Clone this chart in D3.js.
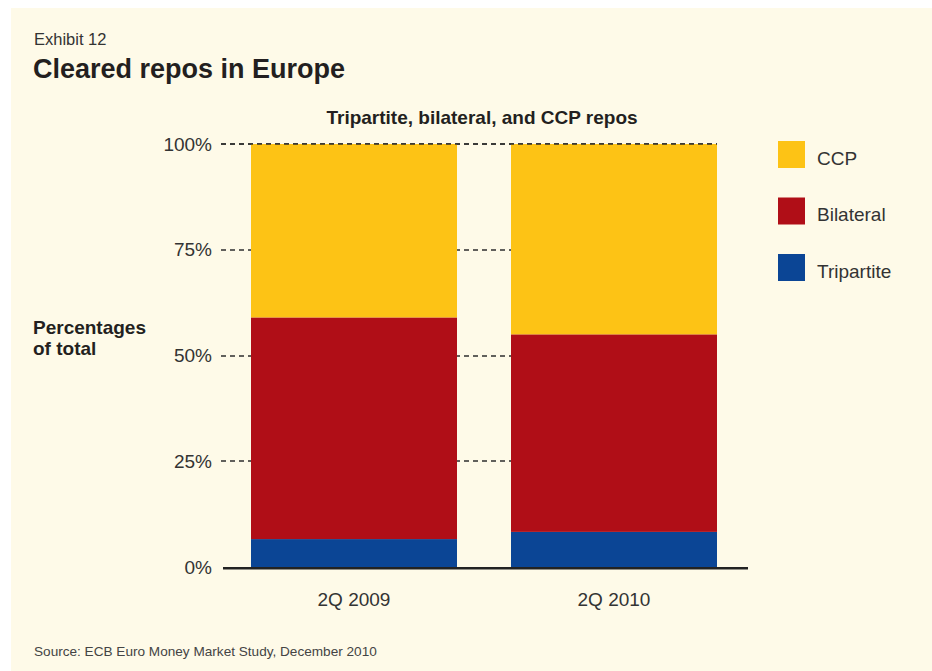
<!DOCTYPE html>
<html>
<head>
<meta charset="utf-8">
<script src="https://cdn.jsdelivr.net/npm/d3@7/dist/d3.min.js"></script>
<style>
  html, body { margin: 0; padding: 0; background: #ffffff; }
  svg { display: block; font-family: "Liberation Sans", Arial, Helvetica, sans-serif; }
</style>
</head>
<body>
<svg id="chart" width="932" height="671"></svg>
<script>
// Periods shown on the x axis
const categories = ["2Q 2009", "2Q 2010"];
// Share of total cleared repos, percent (stacked bottom to top)
const tripartite = [6.6, 8.3];
const bilateral = [52.4, 46.7];
const ccp = [41.0, 45.0];
const seriesNames = ["Tripartite", "Bilateral", "CCP"];
const seriesColors = ["#0b4595", "#b00e17", "#fdc315"];
const yTicks = [0, 25, 50, 75, 100];
const legendOrder = ["CCP", "Bilateral", "Tripartite"];

const rows = categories.map((c, i) => ({
  cat: c, Tripartite: tripartite[i], Bilateral: bilateral[i], CCP: ccp[i]
}));

const svg = d3.select("#chart");
const W = 932, H = 671;
const ink = "#231f20";
const soft = "#333333";

// Cream panel
svg.append("rect").attr("x", 11).attr("y", 8).attr("width", W - 11).attr("height", H - 8)
  .attr("fill", "#fefae8");

// Heading block
svg.append("text").attr("x", 34).attr("y", 44.5).attr("font-size", 16.5).attr("fill", soft)
  .text("Exhibit 12");
svg.append("text").attr("x", 33).attr("y", 78).attr("font-size", 27).attr("font-weight", "bold")
  .attr("fill", ink).text("Cleared repos in Europe");
svg.append("text").attr("x", 482).attr("y", 124).attr("font-size", 19).attr("font-weight", "bold")
  .attr("text-anchor", "middle").attr("fill", ink).text("Tripartite, bilateral, and CCP repos");

// Plot geometry
const yTop = 144, yBase = 567;
const xb = d3.scaleBand().domain(categories).range([251, 717]).paddingInner(54 / 260).paddingOuter(0);
const y = d3.scaleLinear().domain([0, 100]).range([yBase, yTop]);

const gridStyle = sel => sel.attr("stroke", "#2e2e2e").attr("stroke-width", 1.3)
  .attr("stroke-dasharray", "5,4");

// Dashed gridlines
const grid = svg.append("g");
yTicks.filter(t => t > 0).forEach(t => {
  const yy = Math.round(y(t));
  grid.append("line").attr("x1", 221).attr("x2", 717)
    .attr("y1", yy).attr("y2", yy).call(gridStyle);
});

// Tick labels
const yAxis = d3.axisLeft(y).tickValues(yTicks).tickSize(0).tickPadding(0)
  .tickFormat(d => d + "%");
const ya = svg.append("g").attr("transform", "translate(212,0)").call(yAxis);
ya.select(".domain").remove();
ya.selectAll("text").attr("font-size", 19).attr("fill", soft)
  .attr("font-family", "Liberation Sans, Arial, sans-serif");

// Stacked bars
const stack = d3.stack().keys(seriesNames)(rows);
const color = d3.scaleOrdinal().domain(seriesNames).range(seriesColors);
svg.append("g").selectAll("g").data(stack).join("g")
  .attr("fill", d => color(d.key))
  .selectAll("rect").data(d => d).join("rect")
  .attr("x", d => xb(d.data.cat))
  .attr("width", xb.bandwidth())
  .attr("y", d => y(d[1]))
  .attr("height", d => y(d[0]) - y(d[1]));

// 100% dashes drawn over the bar tops
svg.append("line").attr("x1", 221).attr("x2", 717).attr("y1", y(100)).attr("y2", y(100))
  .call(gridStyle);

// Baseline
svg.append("line").attr("x1", 223).attr("x2", 748).attr("y1", yBase + 1.2).attr("y2", yBase + 1.2)
  .attr("stroke", "#222").attr("stroke-width", 2.6);

// Category labels
const xAxis = d3.axisBottom(xb).tickSize(0).tickPadding(0);
const xa = svg.append("g").attr("transform", `translate(0,${yBase + 25})`).call(xAxis);
xa.select(".domain").remove();
xa.selectAll("text").attr("font-size", 19).attr("fill", soft)
  .attr("font-family", "Liberation Sans, Arial, sans-serif");

// Axis title
const at = svg.append("text").attr("x", 33).attr("y", 334).attr("font-size", 19)
  .attr("font-weight", "bold").attr("fill", ink);
at.append("tspan").attr("x", 33).attr("dy", 0).text("Percentages");
at.append("tspan").attr("x", 33).attr("dy", 20.5).text("of total");

// Legend
const lg = svg.append("g").selectAll("g").data(legendOrder).join("g")
  .attr("transform", (d, i) => `translate(778,${141 + i * 56.5})`);
lg.append("rect").attr("width", 27).attr("height", 27).attr("fill", d => color(d));
lg.append("text").attr("x", 39).attr("y", 23.5).attr("font-size", 19).attr("fill", soft)
  .text(d => d);

// Source note
svg.append("text").attr("x", 34).attr("y", 656).attr("font-size", 13.6).attr("fill", "#444")
  .text("Source: ECB Euro Money Market Study, December 2010");
</script>
</body>
</html>
